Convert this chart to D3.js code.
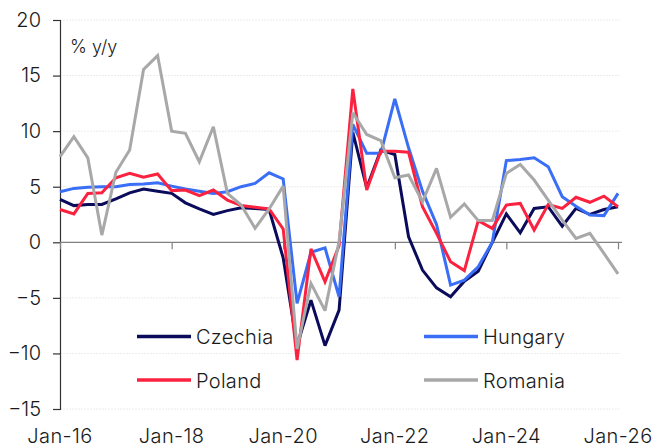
<!DOCTYPE html>
<html>
<head>
<meta charset="utf-8">
<script src="https://cdn.jsdelivr.net/npm/d3@7"></script>
<style>
  html, body { margin: 0; padding: 0; background: #fff; }
  svg { display: block; font-family: Inter, "DejaVu Sans", sans-serif; font-weight: 300; }
</style>
</head>
<body>
<svg id="chart" width="657" height="448"></svg>
<script>
// Quarterly data, Q1 2016 .. Q1 2026
const startYear = 2016;
const quarters = d3.range(41).map(i => new Date(startYear + Math.floor(i / 4), (i % 4) * 3, 1));

const czechia = [3.85, 3.3, 3.4, 3.4, 3.9, 4.45, 4.8, 4.6, 4.4, 3.55,
  3.0, 2.5, 2.85, 3.1, 3.05, 2.95, -1.4, -9.3, -5.2, -9.3,
  -6.1, 9.9, 4.9, 8.3, 7.9, 0.5, -2.5, -4.1, -4.9, -3.5,
  -2.6, 0.0, 2.55, 0.85, 3.05, 3.2, 1.45, 3.05, 2.5, 2.95, 3.2];

const hungary = [4.55, 4.85, 4.95, 5.0, 5.0, 5.2, 5.25, 5.35, 5.05, 4.8,
  4.6, 4.4, 4.55, 5.0, 5.3, 6.25, 5.7, -5.5, -0.9, -0.5,
  -4.9, 10.6, 8.0, 8.0, 12.9, 8.5, 4.6, 1.6, -3.85, -3.4,
  -2.2, 0.0, 7.35, 7.45, 7.6, 6.8, 4.1, 3.25, 2.45, 2.4, 4.4];

const poland = [2.95, 2.55, 4.4, 4.45, 5.8, 6.2, 5.85, 6.15, 4.65, 4.7,
  4.2, 4.7, 3.8, 3.3, 3.15, 3.0, 1.2, -10.6, -0.6, -3.55,
  -0.3, 13.8, 4.7, 8.2, 8.2, 8.1, 3.2, 0.8, -1.75, -2.55,
  1.95, 1.25, 3.35, 3.5, 1.1, 3.4, 3.05, 4.05, 3.6, 4.15, 3.2];

const romania = [7.7, 9.5, 7.6, 0.65, 6.3, 8.3, 15.55, 16.8, 10.0, 9.8,
  7.25, 10.4, 4.4, 3.35, 1.25, 3.0, 5.05, -9.6, -3.7, -6.15,
  0.1, 11.65, 9.7, 9.15, 5.8, 6.05, 3.65, 6.65, 2.25, 3.45,
  1.95, 1.95, 6.2, 7.0, 5.6, 3.8, 2.0, 0.35, 0.8, -1.0, -2.85];

const seriesNames = ["Czechia", "Hungary", "Poland", "Romania"];
const seriesValues = [czechia, hungary, poland, romania];
const seriesColors = ["#0b0b5c", "#3a6ef6", "#fb2240", "#a8a8a8"];

const yTicks = [-15, -10, -5, 0, 5, 10, 15, 20];
const xTickLabels = ["Jan-16", "Jan-18", "Jan-20", "Jan-22", "Jan-24", "Jan-26"];
const xTickDates = [2016, 2018, 2020, 2022, 2024, 2026].map(yy => new Date(yy, 0, 1));
const unitLabel = "% y/y";

(function draw() {
  const svg = d3.select("#chart");
  const mLeft = 60, mRight = 618, mTop = 20, mBottom = 409;

  const x = d3.scaleTime().domain([new Date(2016, 0, 1), new Date(2026, 0, 1)]).range([mLeft, mRight]);
  const y = d3.scaleLinear().domain([-15, 20]).range([mBottom, mTop]);

  // gridlines
  svg.append("g").selectAll("line").data(yTicks.filter(t => t !== 0)).join("line")
    .attr("x1", mLeft).attr("x2", mRight + 3)
    .attr("y1", d => y(d)).attr("y2", d => y(d))
    .attr("stroke", "#ececec").attr("stroke-width", 1).attr("stroke-dasharray", "2,1");

  // y axis
  const yAxis = d3.axisLeft(y).tickValues(yTicks).tickSize(7).tickPadding(12).tickFormat(d3.format("d"));
  const gy = svg.append("g").attr("transform", `translate(${mLeft},0)`).call(yAxis);
  gy.select(".domain").attr("stroke", "#333").attr("stroke-width", 1.2);
  gy.selectAll(".tick line").attr("stroke", "#333").attr("stroke-width", 1.2);
  gy.selectAll(".tick text").attr("font-size", 20).attr("fill", "#1a1a1a")
    .attr("font-family", "Inter, 'DejaVu Sans', sans-serif").attr("font-weight", 300);

  // zero x axis line with ticks
  const xAxis = d3.axisBottom(x).tickValues(xTickDates).tickSize(7).tickFormat(() => "");
  const gx = svg.append("g").attr("transform", `translate(0,${y(0)})`).call(xAxis);
  gx.select(".domain").attr("stroke", "#808080").attr("stroke-width", 1.2)
    .attr("d", `M${mLeft},0H${mRight + 4}`);
  gx.selectAll(".tick line").attr("stroke", "#808080").attr("stroke-width", 1.2);

  // x tick labels at bottom
  svg.append("g").selectAll("text").data(xTickLabels).join("text")
    .attr("x", (d, i) => x(xTickDates[i]))
    .attr("y", 443)
    .attr("text-anchor", "middle")
    .attr("font-size", 20)
    .attr("letter-spacing", 0.4)
    .attr("fill", "#1a1a1a")
    .text(d => d);

  // lines
  const line = d3.line().x((d, i) => x(quarters[i])).y(d => y(d));
  svg.append("g").selectAll("path").data(seriesValues).join("path")
    .attr("d", d => line(d))
    .attr("fill", "none")
    .attr("stroke", (d, i) => seriesColors[i])
    .attr("stroke-width", 3)
    .attr("stroke-linejoin", "miter")
    .attr("stroke-miterlimit", 3);

  // unit label
  svg.append("text").attr("x", 70).attr("y", 53).attr("font-size", 18).attr("fill", "#1a1a1a").text(unitLabel);

  // legend
  const legendPos = [[137, 336.5], [424, 336.5], [137, 380], [424, 380]];
  const legend = svg.append("g").selectAll("g").data(seriesNames).join("g")
    .attr("transform", (d, i) => `translate(${legendPos[i][0]},${legendPos[i][1]})`);
  legend.append("line").attr("x1", 0).attr("x2", 54).attr("y1", 0).attr("y2", 0)
    .attr("stroke", (d, i) => seriesColors[i]).attr("stroke-width", 3.5);
  legend.append("text").attr("x", 59).attr("y", 7.5).attr("font-size", 20)
    .attr("letter-spacing", 0.3).attr("fill", "#1a1a1a").text(d => d);
})();
</script>
</body>
</html>
